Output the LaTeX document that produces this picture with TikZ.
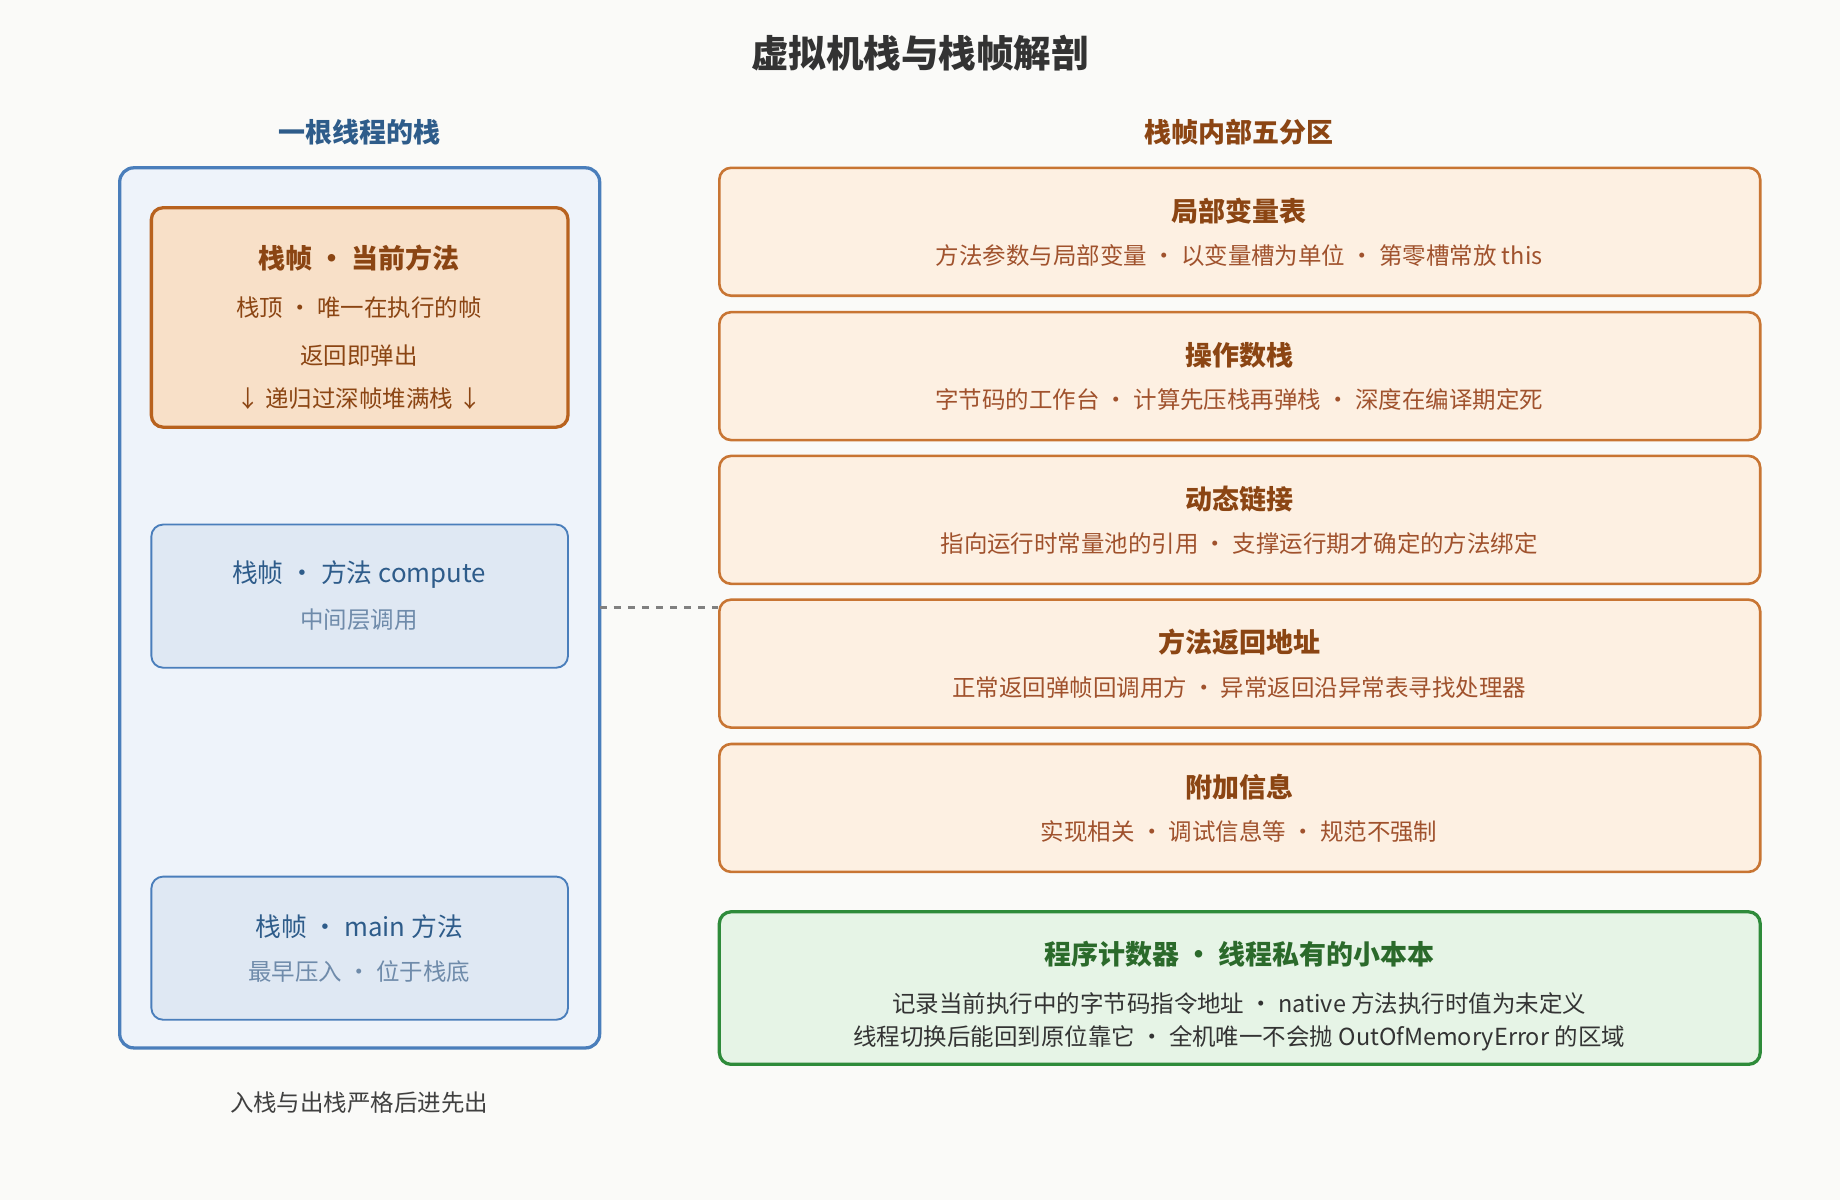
\documentclass[tikz,border=0pt]{standalone}
\usepackage{fontspec}
\setmainfont{Noto Sans CJK SC}
\usetikzlibrary{positioning}
\definecolor{bgc}{HTML}{FAFAF8}
\definecolor{stackfill}{HTML}{EEF3FA}
\definecolor{bluel}{HTML}{4A7EBB}
\definecolor{bluet}{HTML}{2E5C8A}
\definecolor{bluesub}{HTML}{6F8BAA}
\definecolor{framefill}{HTML}{DFE8F3}
\definecolor{topfill}{HTML}{F8E0C8}
\definecolor{topline}{HTML}{B8621E}
\definecolor{brownt}{HTML}{8B4513}
\definecolor{partfill}{HTML}{FDF0E2}
\definecolor{partline}{HTML}{C87533}
\definecolor{parttext}{HTML}{A0522D}
\definecolor{pcfill}{HTML}{E6F4E6}
\definecolor{pcline}{HTML}{2E8B3A}
\definecolor{pctext}{HTML}{2B6A2B}
\tikzset{
  box/.style = {draw, rounded corners=5pt, minimum width=177.5pt, minimum height=61pt, line width=0.8pt},
  part/.style = {draw=partline, fill=partfill, rounded corners=5pt, line width=1.1pt,
                 minimum width=443.5pt, minimum height=54.5pt},
  heading/.style = {font=\bfseries\fontsize{11.5}{13}\selectfont},
  body/.style = {font=\fontsize{10}{12}\selectfont},
}
\begin{document}
\begin{tikzpicture}[x=0.5pt,y=-0.5pt]
  \fill[bgc] (0,0) rectangle (1568,1023);
  \useasboundingbox (0,0) rectangle (1568,1023);
  \node[font=\bfseries\fontsize{16}{18}\selectfont, text=black!80] (title) at (784,45) {虚拟机栈与栈帧解剖};
  % left: the stack of one thread
  \node[heading, text=bluet] (lefthead) at (306,113) {一根线程的栈};
  \draw[bluel, fill=stackfill, line width=1.4pt, rounded corners=6pt] (102,143) rectangle (511,893);
  \node[box, draw=topline, fill=topfill, line width=1.4pt, minimum height=93.5pt] (top) at (306.5,270.5) {};
  \node[heading, text=brownt] at (306,220) {栈帧 • 当前方法};
  \node[body, text=brownt] at (306,262) {栈顶 · 唯一在执行的帧};
  \node[body, text=brownt] at (306,303) {返回即弹出};
  \node[body, text=brownt] at (306,340) {↓ 递归过深帧堆满栈 ↓};
  \node[box, draw=bluel, fill=framefill] (mid) at (306.5,508) {};
  \node[font=\fontsize{11}{13}\selectfont, text=bluet] at (306,490) {栈帧 · 方法 compute};
  \node[body, text=bluesub] at (306,528) {中间层调用};
  \node[box, draw=bluel, fill=framefill] (bottom) at (306.5,808) {};
  \node[font=\fontsize{11}{13}\selectfont, text=bluet] at (306,790) {栈帧 · main 方法};
  \node[body, text=bluesub] at (306,828) {最早压入 · 位于栈底};
  \node[body, text=black!75] (caption) at (306,940) {入栈与出栈严格后进先出};
  % right: five parts of a frame
  \node[heading, text=brownt] (righthead) at (1056,113) {栈帧内部五分区};
  \foreach \n/\y/\t/\s in {
      p1/197.5/局部变量表/方法参数与局部变量 · 以变量槽为单位 · 第零槽常放 this,
      p2/320.5/操作数栈/字节码的工作台 · 计算先压栈再弹栈 · 深度在编译期定死,
      p3/443/动态链接/指向运行时常量池的引用 · 支撑运行期才确定的方法绑定,
      p4/565.5/方法返回地址/正常返回弹帧回调用方 · 异常返回沿异常表寻找处理器,
      p5/688.5/附加信息/实现相关 · 调试信息等 · 规范不强制} {
    \node[part] (\n) at (1056.5,\y) {};
    \node[heading, text=brownt] at (1056,\y-18) {\t};
    \node[body, text=parttext] at (1056,\y+20) {\s};
  }
  \node[part, draw=pcline, fill=pcfill, line width=1.4pt, minimum height=65pt] (pc) at (1056.5,842) {};
  \node[heading, text=pctext] at (1056,813) {程序计数器 • 线程私有的小本本};
  \node[body, text=black!80] at (1056,855) {记录当前执行中的字节码指令地址 · native 方法执行时值为未定义};
  \node[body, text=black!80] at (1056,885) {线程切换后能回到原位靠它 · 全机唯一不会抛 OutOfMemoryError 的区域};
  \coordinate (stackedge) at (511,518);
  \draw[gray, dashed, line width=1.2pt] (stackedge) -- (p4.west |- stackedge);
\end{tikzpicture}
\end{document}
